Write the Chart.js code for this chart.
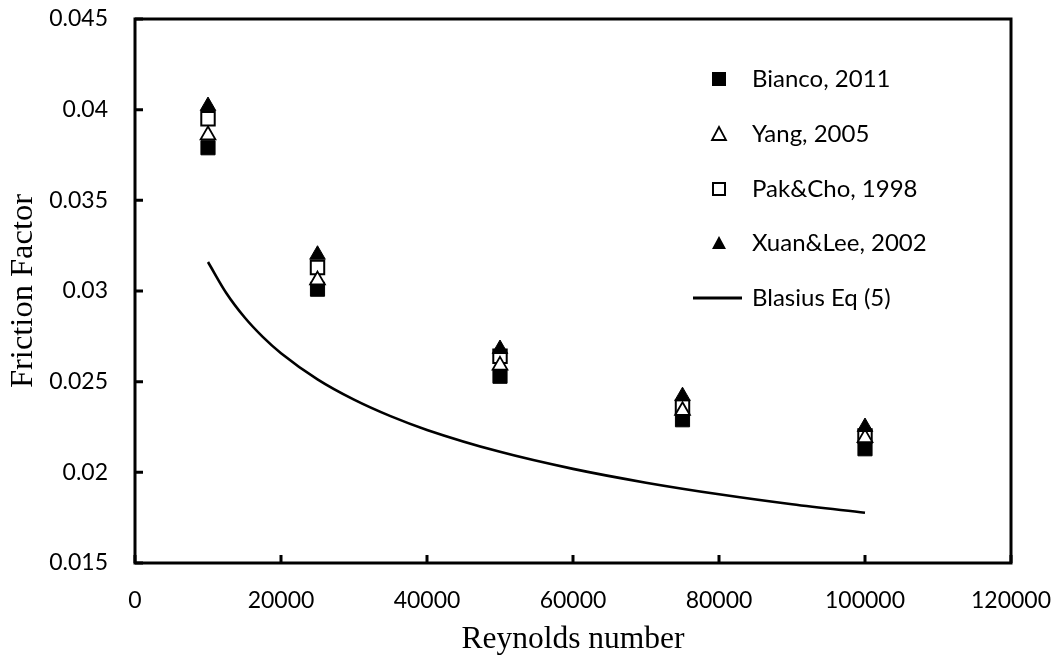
<!DOCTYPE html>
<html>
<head>
<meta charset="utf-8">
<script src="https://cdn.jsdelivr.net/npm/chart.js@4.4.1/dist/chart.umd.min.js"></script>
<style>
  html, body { margin: 0; padding: 0; background: #fff; }
  #wrap { width: 1056px; height: 659px; position: relative; }
</style>
</head>
<body>
<div id="wrap"><canvas id="graphic"></canvas></div>
<script>
// Reynolds numbers of the measured points
const reynolds = [10000, 25000, 50000, 75000, 100000];

// friction factor per study
const bianco2011 = [0.0379, 0.0301, 0.0253, 0.0229, 0.0213];
const yang2005 = [0.0386, 0.0306, 0.0259, 0.0234, 0.0219];
const pakCho1998 = [0.0395, 0.0313, 0.0264, 0.0236, 0.0220];
const xuanLee2002 = [0.0402, 0.0320, 0.0268, 0.0242, 0.0225];

// Blasius curve
const blasiusRe = [10000, 12500, 15000, 17500, 20000, 25000, 30000, 35000, 40000, 50000, 60000, 70000, 80000, 90000, 100000];
const blasiusF = [0.03160, 0.02989, 0.02855, 0.02747, 0.02657, 0.02513, 0.02401, 0.02310, 0.02234, 0.02113, 0.02019, 0.01943, 0.01879, 0.01824, 0.01777];

const legendNames = ['Bianco, 2011', 'Yang, 2005', 'Pak&Cho, 1998', 'Xuan&Lee, 2002', 'Blasius Eq (5)'];

const toPoints = (xs, ys) => xs.map((x, i) => ({ x: x, y: ys[i] }));

Chart.defaults.font.family = 'Lato';
Chart.defaults.color = '#000';

// drop the label overflow padding so the plot box sits where we want it
function noOverflow(s) {
  s.paddingTop = 0;
  s.paddingBottom = 0;
  s.paddingLeft = 0;
  s.paddingRight = 0;
}

const frameAndLegend = {
  id: 'frameAndLegend',
  afterDraw(chart) {
    const ctx = chart.ctx;
    const area = chart.chartArea;
    const xs = chart.scales.x;
    const ys = chart.scales.y;
    ctx.save();
    ctx.strokeStyle = '#000';
    ctx.lineWidth = 3;
    ctx.strokeRect(area.left, area.top, area.right - area.left, area.bottom - area.top);

    // inward tick marks
    ctx.beginPath();
    ys.ticks.forEach(t => {
      const py = ys.getPixelForValue(t.value);
      ctx.moveTo(area.left, py);
      ctx.lineTo(area.left + 8, py);
    });
    xs.ticks.forEach(t => {
      const px = xs.getPixelForValue(t.value);
      ctx.moveTo(px, area.bottom);
      ctx.lineTo(px, area.bottom - 8);
    });
    ctx.stroke();

    // legend
    const mx = 719, tx = 752;
    const rows = [79, 134, 189, 243, 298];
    ctx.font = '24px Lato';
    ctx.fillStyle = '#000';
    ctx.textBaseline = 'middle';
    ctx.textAlign = 'left';
    legendNames.forEach((name, i) => {
      const y = rows[i];
      ctx.fillText(name, tx, y);
      ctx.lineWidth = 2;
      if (i === 0) {
        ctx.fillRect(mx - 7, y - 7, 14, 14);
      } else if (i === 2) {
        ctx.strokeRect(mx - 6, y - 6, 12, 12);
      } else if (i === 1 || i === 3) {
        ctx.beginPath();
        ctx.moveTo(mx, y - 7);
        ctx.lineTo(mx + 7, y + 6);
        ctx.lineTo(mx - 7, y + 6);
        ctx.closePath();
        if (i === 3) ctx.fill(); else { ctx.lineWidth = 1.8; ctx.stroke(); }
      } else {
        ctx.lineWidth = 3;
        ctx.beginPath();
        ctx.moveTo(693, y);
        ctx.lineTo(742, y);
        ctx.stroke();
      }
    });
    ctx.restore();
  }
};

const ctx = document.getElementById('graphic').getContext('2d');
new Chart(ctx, {
  type: 'scatter',
  data: {
    datasets: [
      {
        label: legendNames[0],
        data: toPoints(reynolds, bianco2011),
        pointStyle: 'rect',
        pointRadius: 10,
        backgroundColor: '#000',
        borderColor: '#000',
        borderWidth: 1,
        order: 4
      },
      {
        label: legendNames[1],
        data: toPoints(reynolds, yang2005),
        pointStyle: 'triangle',
        pointRadius: 8.5,
        backgroundColor: '#fff',
        borderColor: '#000',
        borderWidth: 1.8,
        order: 2
      },
      {
        label: legendNames[2],
        data: toPoints(reynolds, pakCho1998),
        pointStyle: 'rect',
        pointRadius: 9.5,
        backgroundColor: '#fff',
        borderColor: '#000',
        borderWidth: 2,
        order: 3
      },
      {
        label: legendNames[3],
        data: toPoints(reynolds, xuanLee2002),
        pointStyle: 'triangle',
        pointRadius: 9,
        backgroundColor: '#000',
        borderColor: '#000',
        borderWidth: 1,
        order: 1
      },
      {
        label: legendNames[4],
        data: toPoints(blasiusRe, blasiusF),
        showLine: true,
        pointRadius: 0,
        borderColor: '#000',
        borderWidth: 2.6,
        cubicInterpolationMode: 'monotone',
        fill: false,
        order: 5
      }
    ]
  },
  options: {
    responsive: true,
    maintainAspectRatio: false,
    animation: false,
    layout: { padding: { top: 19, right: 45, left: 0, bottom: 0 } },
    plugins: {
      legend: { display: false },
      tooltip: { enabled: false }
    },
    scales: {
      x: {
        type: 'linear',
        min: 0,
        max: 120000,
        afterFit: s => { s.height = 96; noOverflow(s); },
        grid: { display: false, drawTicks: false },
        border: { display: false },
        ticks: {
          stepSize: 20000,
          maxRotation: 0,
          autoSkip: false,
          padding: 24,
          font: { size: 23 },
          callback: v => String(v)
        },
        title: {
          display: true,
          text: 'Reynolds number',
          font: { family: 'Liberation Serif', size: 31.5 },
          padding: { top: 0, bottom: 0 }
        }
      },
      y: {
        min: 0.015,
        max: 0.045,
        afterFit: s => { s.width = 135; noOverflow(s); },
        grid: { display: false, drawTicks: false },
        border: { display: false },
        ticks: {
          stepSize: 0.005,
          padding: 27,
          font: { size: 23 },
          callback: v => String(+v.toFixed(3))
        },
        title: {
          display: true,
          text: 'Friction Factor',
          font: { family: 'Liberation Serif', size: 32.5 },
          padding: { top: 3.5, bottom: 0 }
        }
      }
    }
  },
  plugins: [frameAndLegend]
});
</script>
</body>
</html>
